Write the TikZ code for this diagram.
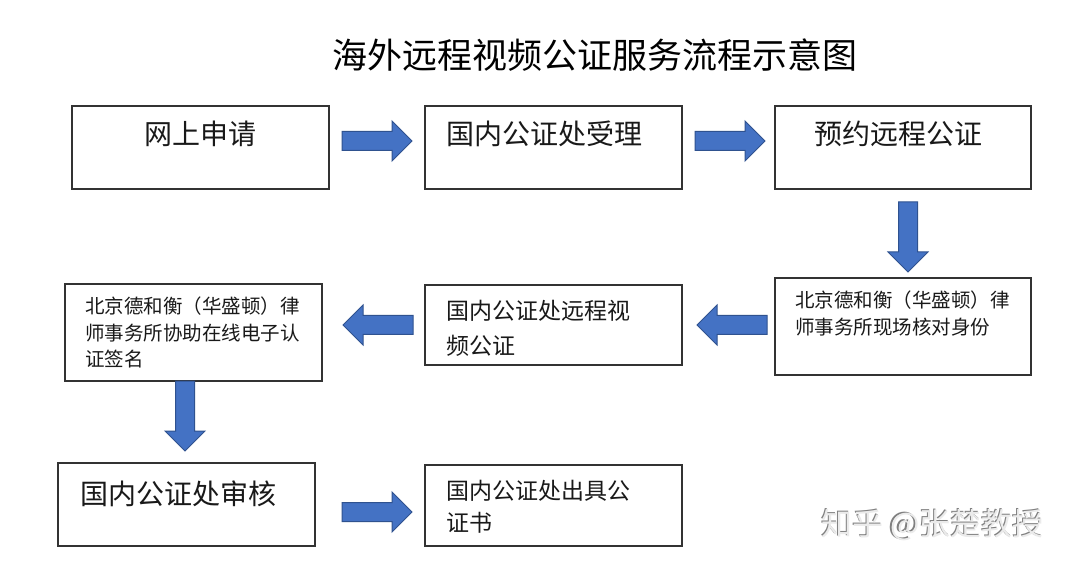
\documentclass[tikz,border=0pt]{standalone}
\usepackage{fontspec}
\setmainfont{Noto Sans CJK SC}
\begin{document}
\begin{tikzpicture}[x=1pt,y=-1pt,
  box/.style={draw=black!80,line width=1.2pt,fill=white},
  bigtxt/.style={font=\fontsize{28}{34}\selectfont,inner sep=0pt,text=black!90},
  midtxt/.style={font=\fontsize{23}{34}\selectfont,inner sep=0pt,align=left,text=black!90,anchor=north west},
  smalltxt/.style={font=\fontsize{19.5}{27}\selectfont,inner sep=0pt,align=left,text=black!90,anchor=north west},
  blockarrow/.pic={\path[fill={rgb,255:red,68;green,114;blue,196},draw={rgb,255:red,47;green,82;blue,143},line width=1pt]
     (-35,-9.5) -- (15,-9.5) -- (15,-20) -- (35,0) -- (15,20) -- (15,9.5) -- (-35,9.5) -- cycle;}
]
\useasboundingbox (0,0) rectangle (1080,572);
\fill[white] (0,0) rectangle (1080,572);

\node[font=\fontsize{35}{40}\selectfont,inner sep=0pt] (title) at (595,55) {海外远程视频公证服务流程示意图};

% boxes
\draw[box] (72,106) rectangle (329,189);
\node[bigtxt] (t1) at (200,134) {网上申请};

\draw[box] (425,106) rectangle (682,189);
\node[bigtxt,anchor=west] (t2) at (446,134) {国内公证处受理};

\draw[box] (775,106) rectangle (1031,189);
\node[bigtxt,anchor=west] (t3) at (814,134) {预约远程公证};

\draw[box] (775,278) rectangle (1031,375);
\node[smalltxt] (t4) at (795,291) {北京德和衡（华盛顿）律\\师事务所现场核对身份};

\draw[box] (425,285) rectangle (682,365);
\node[midtxt,font=\fontsize{23}{35}\selectfont] (t5) at (446,300) {国内公证处远程视\\频公证};

\draw[box] (65,284) rectangle (322,381);
\node[smalltxt,font=\fontsize{19.5}{26.5}\selectfont] (t6) at (85,297) {北京德和衡（华盛顿）律\\师事务所协助在线电子认\\证签名};

\draw[box] (58,463) rectangle (315,546);
\node[bigtxt,anchor=west] (t7) at (80,494) {国内公证处审核};

\draw[box] (425,465) rectangle (682,546);
\node[midtxt,font=\fontsize{23}{32}\selectfont] (t8) at (446,480) {国内公证处出具公\\证书};

% block arrows
\pic at (377,141) {blockarrow};
\pic at (730,141) {blockarrow};
\pic[rotate=-90] at (908,237) {blockarrow};
\pic[rotate=180] at (732,325) {blockarrow};
\pic[rotate=180] at (378,325) {blockarrow};
\pic[rotate=-90] at (185,416) {blockarrow};
\pic at (377,512) {blockarrow};

% watermark
\node[font=\fontsize{31}{34}\selectfont,inner sep=0pt,text=black!50,anchor=west] (wm0) at (819.8,524) {知乎 @张楚教授};
\node[font=\fontsize{31}{34}\selectfont,inner sep=0pt,text=black!8,anchor=west] (wm) at (821,525.2) {知乎 @张楚教授};
\end{tikzpicture}
\end{document}
